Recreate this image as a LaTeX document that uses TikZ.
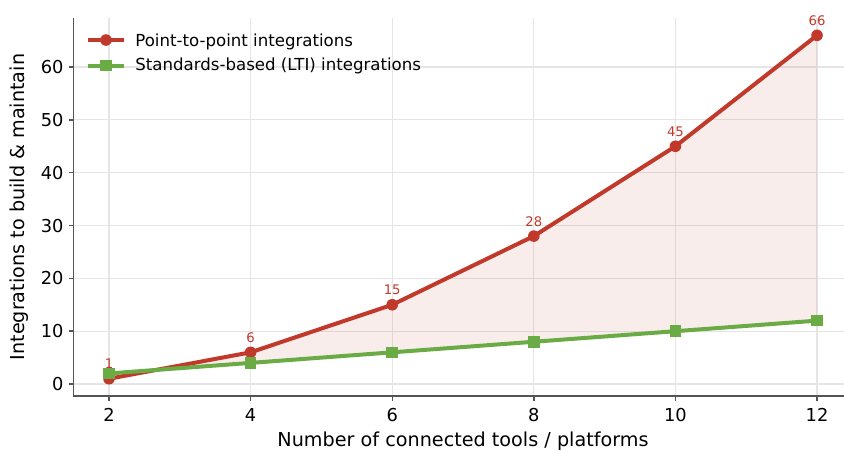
\documentclass[tikz,border=0pt]{standalone}
\usepackage{fontspec}
\setmainfont{DejaVu Sans}
\usetikzlibrary{positioning,calc}
\definecolor{p2pred}{RGB}{192, 57, 43}
\definecolor{ltigreen}{RGB}{106, 171, 69}
\definecolor{gridgray}{RGB}{229, 229, 229}
\definecolor{spinegray}{RGB}{85, 85, 85}
\tikzset{
  gridline/.style={gridgray, line width=0.6pt},
  spine/.style={spinegray, line width=0.7pt},
  tickmark/.style={spinegray, line width=0.7pt},
  ticklabel/.style={inner sep=0pt, font=\fontsize{8.9pt}{10pt}\selectfont},
  axislabel/.style={inner sep=0pt, font=\fontsize{9.6pt}{11pt}\selectfont},
  legendlabel/.style={inner sep=0pt, anchor=base west, font=\fontsize{8.3pt}{10pt}\selectfont},
  valuelabel/.style={inner sep=0pt, anchor=base, yshift=5pt, text=p2pred, font=\fontsize{6.6pt}{8pt}\selectfont},
  p2pline/.style={p2pred, line width=2pt, line join=round},
  ltiline/.style={ltigreen, line width=2pt, line join=round},
  p2pdot/.style={circle, fill=p2pred, inner sep=0pt, minimum size=5.8pt},
  ltisquare/.style={rectangle, fill=ltigreen, inner sep=0pt, minimum size=5.8pt}
}
\begin{document}
\begin{tikzpicture}[x=35.4pt, y=2.6415pt]
    \useasboundingbox (0.4605,-12.49) rectangle (12.381,72.69);
    \clip (0.4605,-12.49) rectangle (12.381,72.69);
    % grid
    \foreach \gx in {2,4,...,12}
        \draw[gridline] (\gx,-2.25) -- (\gx,69.25);
    \foreach \gy in {0,10,...,60}
        \draw[gridline] (1.5,\gy) -- (12.5,\gy);
    % data points
    \foreach \n/\v in {2/1,4/6,6/15,8/28,10/45,12/66}
        \coordinate (r\n) at (\n,\v);
    \foreach \n/\v in {2/2,4/4,6/6,8/8,10/10,12/12}
        \coordinate (g\n) at (\n,\v);
    % shaded gap between the two series
    \fill[p2pred, opacity=0.09] (r2) -- (r4) -- (r6) -- (r8) -- (r10) -- (r12)
        -- (g12) -- (g10) -- (g8) -- (g6) -- (g4) -- (g2) -- cycle;
    % point-to-point series
    \draw[p2pline] (r2) -- (r4) -- (r6) -- (r8) -- (r10) -- (r12);
    \foreach \n/\v in {2/1,4/6,6/15,8/28,10/45,12/66} {
        \node[p2pdot] (rdot\n) at (r\n) {};
        \node[valuelabel] (rval\n) at (r\n) {\v};
    }
    % standards-based series
    \draw[ltiline] (g2) -- (g4) -- (g6) -- (g8) -- (g10) -- (g12);
    \foreach \n in {2,4,...,12}
        \node[ltisquare] (gsq\n) at (g\n) {};
    % axes
    \draw[spine] (1.5,69.25) -- (1.5,-2.25) -- (12.5,-2.25);
    \foreach \gx in {2,4,...,12} {
        \draw[tickmark] (\gx,-2.25) -- ++(0pt,-2.5pt);
        \node[ticklabel, anchor=base] (xt\gx) at (\gx,-7.0) {\gx};
    }
    \foreach \gy in {0,10,...,60} {
        \draw[tickmark] (1.5,\gy) -- ++(-2.5pt,0pt);
        \node[ticklabel, anchor=base east, yshift=-3.25pt] (yt\gy) at (1.364,\gy) {\gy};
    }
    \node[axislabel, anchor=base] (xlabel) at (7,-11.8) {Number of connected tools / platforms};
    \node[axislabel, rotate=90] (ylabel) at (0.729,33.5) {Integrations to build \& maintain};
    % legend
    \coordinate (legA) at (1.7034,65.11);
    \coordinate (legB) at (2.2119,65.11);
    \coordinate (legC) at (1.7034,60.29);
    \coordinate (legD) at (2.2119,60.29);
    \draw[p2pline] (legA) -- (legB);
    \node[p2pdot] (legdot) at ($(legA)!0.5!(legB)$) {};
    \draw[ltiline] (legC) -- (legD);
    \node[ltisquare] (legsq) at ($(legC)!0.5!(legD)$) {};
    \node[legendlabel] (legtxtA) at (2.367,63.98) {Point-to-point integrations};
    \node[legendlabel] (legtxtB) at (2.367,59.26) {Standards-based (LTI) integrations};
\end{tikzpicture}
\end{document}
